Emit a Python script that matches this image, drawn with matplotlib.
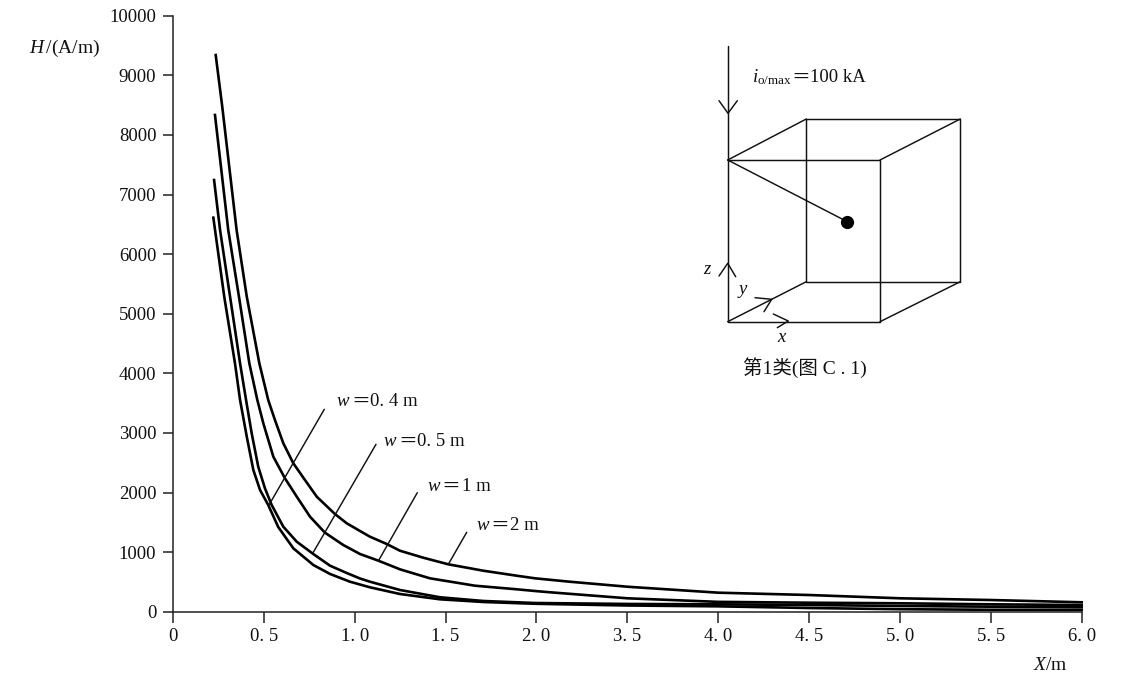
import numpy as np
import matplotlib
matplotlib.use("Agg")
import matplotlib.pyplot as plt

plt.rcParams['font.family'] = ['Liberation Serif', 'Noto Sans CJK SC', 'DejaVu Sans']
plt.rcParams['mathtext.fontset'] = 'custom'
plt.rcParams['mathtext.rm'] = 'Liberation Serif'
plt.rcParams['mathtext.it'] = 'Liberation Serif:italic'

# ---- data ----
x_w2 = [.235, .271, .35, .406, .475, .524, .561, .607, .662, .726, .791, .891, .956, 1.029, 1.084, 1.176, 1.249, 1.377, 1.515, 1.707, 1.891, 1.992, 2.55, 3.5, 4.0, 4.5, 5.0, 5.5, 6.0]
h_w2 = [9340, 8473, 6404, 5285, 4168, 3552, 3216, 2826, 2490, 2210, 1930, 1639, 1483, 1354, 1258, 1136, 1023, 906, 795, 688, 604, 560, 503, 419, 319, 280, 225, 196, 158]
x_w1 = [.231, .304, .363, .42, .464, .497, .552, .616, .681, .754, .836, .937, 1.029, 1.13, 1.249, 1.414, 1.662, 1.891, 2.0, 2.22, 3.5, 4.0, 4.5, 5.0, 5.5, 6.0]
h_w1 = [8334, 6404, 5285, 4168, 3552, 3161, 2601, 2238, 1930, 1594, 1326, 1119, 968, 856, 711, 560, 436, 376, 345, 326, 225, 165, 151, 141, 124, 112]
x_w05 = [.226, .259, .314, .369, .402, .433, .469, .506, .543, .607, .681, .772, .864, .956, 1.029, 1.084, 1.249, 1.469, 1.707, 1.992, 3.5, 4.0, 4.5, 5.0, 5.5, 6.0]
h_w05 = [7243, 6404, 5285, 4168, 3552, 2993, 2433, 2070, 1790, 1426, 1174, 968, 772, 649, 557, 503, 364, 242, 180, 146, 130, 124, 112, 96, 84, 74]
x_w04 = [.222, .282, .341, .369, .406, .442, .479, .524, .579, .662, .772, .864, .974, 1.084, 1.249, 1.469, 1.707, 1.992, 3.5, 4.0, 4.5, 5.0, 5.5, 6.0]
h_w04 = [6611, 5285, 4168, 3552, 2936, 2378, 2042, 1790, 1421, 1064, 784, 633, 503, 409, 297, 208, 163, 133, 104, 90, 62, 42, 32, 29]
series = [(x_w2, h_w2), (x_w1, h_w1), (x_w05, h_w05), (x_w04, h_w04)]

x_ticks = [0, 0.5, 1.0, 1.5, 2.0, 3.5, 4.0, 4.5, 5.0, 5.5, 6.0]
x_tick_labels = ['0', '0. 5', '1. 0', '1. 5', '2. 0', '3. 5', '4. 0', '4. 5', '5. 0', '5. 5', '6. 0']
y_ticks = list(range(0, 10001, 1000))
# the printed axis jumps from 2.0 to 3.5 within one regular tick interval
x_break_values = [0, 2.0, 3.5, 6.0]
x_break_slots = [0, 4, 5, 10]

W, H = 1125, 674
INK = '#111111'
fig = plt.figure(figsize=(W / 100, H / 100), dpi=100, facecolor='white')
ax = fig.add_axes([173 / W, 1 - 611.7 / H, (1081.7 - 173) / W, (611.7 - 15.7) / H])
ax.set_xscale('function', functions=(lambda v: np.interp(v, x_break_values, x_break_slots),
                                     lambda v: np.interp(v, x_break_slots, x_break_values)))
for xs, hs in series:
    ax.plot(xs, hs, color='black', lw=1.9, solid_joinstyle='round', clip_on=False)
ax.set_xlim(0, 6)
ax.set_ylim(0, 10000)
ax.set_xticks(x_ticks)
ax.set_xticklabels(x_tick_labels)
ax.set_yticks(y_ticks)
ax.minorticks_off()
ax.tick_params(axis='x', length=8, width=1.1, labelsize=13.5, pad=4, color='#222222', labelcolor=INK)
ax.tick_params(axis='y', length=7, width=1.1, labelsize=13.5, pad=5, color='#222222', labelcolor=INK)
for s in ('top', 'right'):
    ax.spines[s].set_visible(False)
for s in ('left', 'bottom'):
    ax.spines[s].set_linewidth(1.1)
    ax.spines[s].set_color('#222222')

# overlay in picture pixels for the annotations and the cube sketch
ov = fig.add_axes([0, 0, 1, 1], facecolor='none')
ov.set_xlim(0, W)
ov.set_ylim(H, 0)
ov.axis('off')

def seg(points, lw=1.05):
    px, py = zip(*points)
    ov.plot(px, py, color='#111111', lw=lw, solid_capstyle='round', solid_joinstyle='round')

def label(x, y, s, size=13.5, ha='left'):
    ov.text(x, y, s, fontsize=size, ha=ha, va='center', color=INK)

def eq_label(x_sym, x_eq, x_rest, y, sym, rest):
    label(x_sym, y, sym)
    ov.text(x_eq, y, '＝', fontsize=13.5, ha='center', va='center', color=INK,
            family=['Noto Sans CJK SC'])
    label(x_rest, y, rest)

L, R, T, B = 727.7, 880, 160, 321.7
L2, R2, T2, B2 = 806.3, 960.3, 119, 281.7
seg([(L, T), (R, T), (R, B), (L, B), (L, T)])
seg([(L2, T2), (R2, T2), (R2, B2), (L2, B2), (L2, T2)])
seg([(L, T), (L2, T2)]); seg([(R, T), (R2, T2)]); seg([(R, B), (R2, B2)]); seg([(L, B), (L2, B2)])
seg([(L, 46), (L, T)])
seg([(719, 100.7), (728, 113.3), (737.3, 100.7)])
seg([(L, T), (847.3, 221.7)])
ov.plot([847.3], [221.7], 'o', color='black', ms=9.5, mew=0)
seg([(719, 276), (727.7, 263.3), (735.7, 276.7)])
seg([(755, 297.7), (771.7, 299.3), (764, 311.7)])
seg([(773.3, 314), (788.3, 321), (777.3, 327.7)])
label(708, 270, '$z$', ha='center')
label(743, 292, '$y$', ha='center')
label(782, 337, '$x$', ha='center')
eq_label(751.5, 800.5, 810.5, 77.5, r'$i_{\mathrm{o/max}}$', '100 kA')
label(743, 368, '第1类(图 C . 1)', size=14)

# curve labels and leaders
seg([(324.3, 409.3), (269, 505)])
seg([(376, 444.3), (313.3, 552.3)])
seg([(417.3, 492.7), (378.3, 561)])
seg([(466.7, 532.3), (448.3, 564.3)])
eq_label(335.5, 361, 370, 401.5, '$w$', '0. 4 m')
eq_label(383, 407.5, 417, 441.5, '$w$', '0. 5 m')
eq_label(427, 451, 462.5, 486.5, '$w$', '1 m')
eq_label(476.5, 500, 510, 525.5, '$w$', '2 m')

label(29, 48, r'$H\,$/(A/m)', size=14)
label(1033, 665, r'$X$/m', size=14)

fig.savefig('out.png', dpi=100, facecolor='white')
